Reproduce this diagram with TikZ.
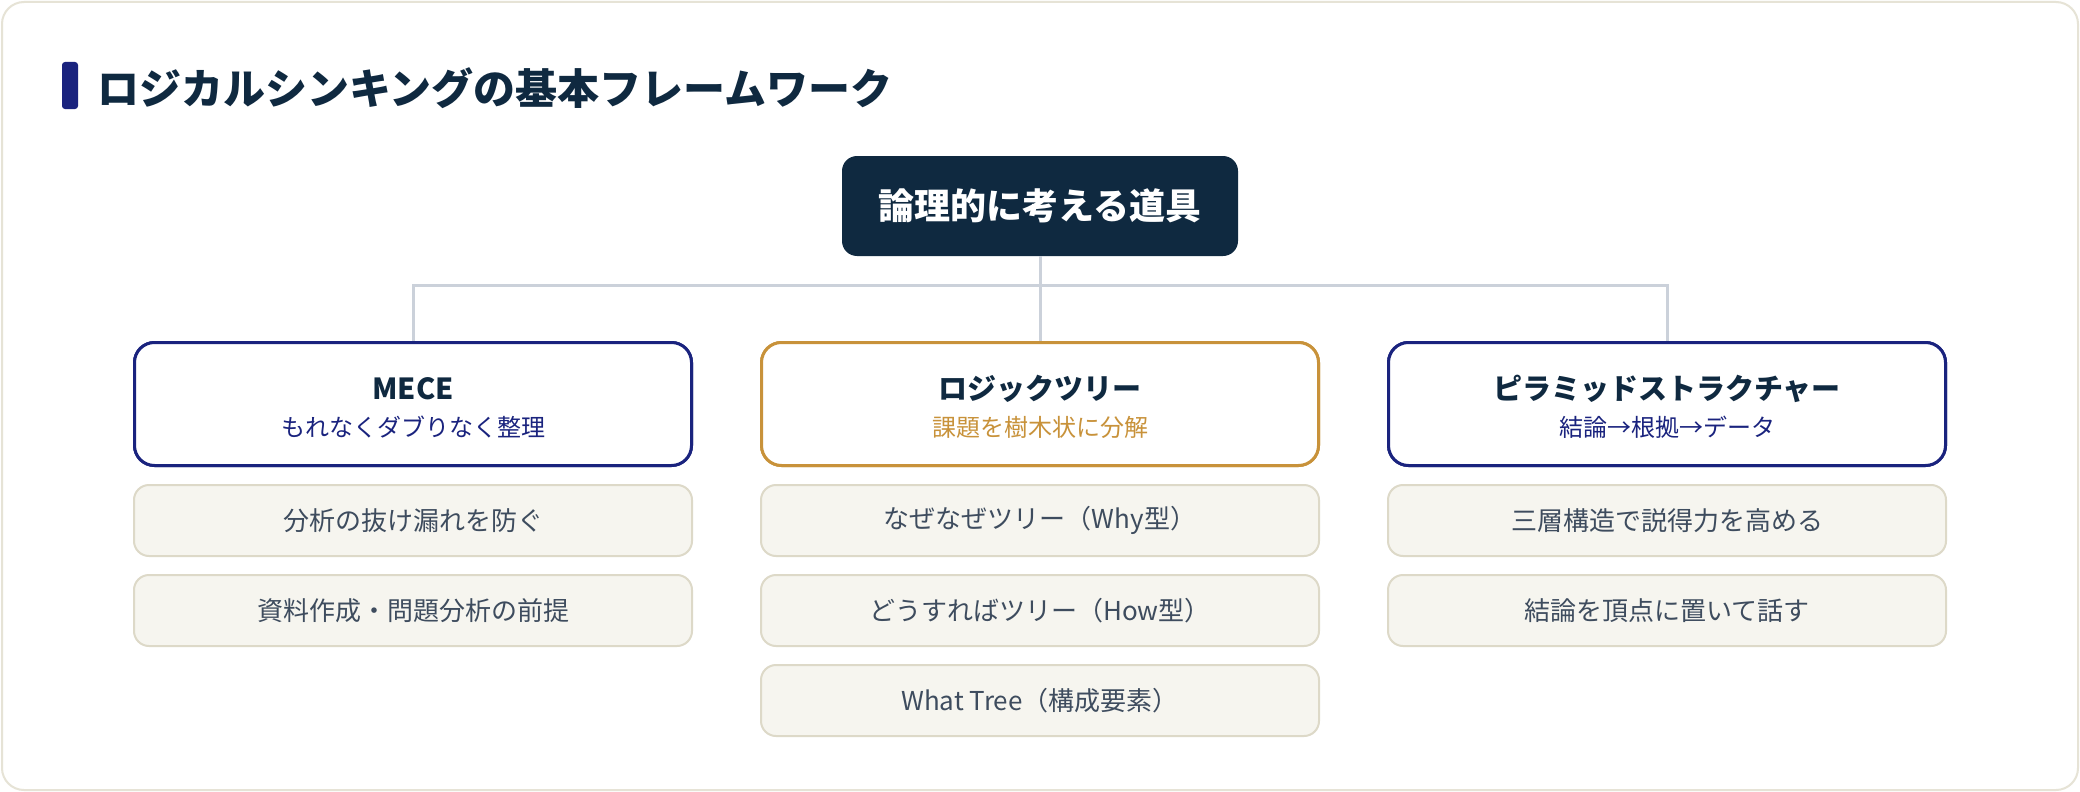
\documentclass[tikz,border=0pt]{standalone}
\usepackage{fontspec}
\setmainfont{Noto Sans CJK JP}
\definecolor{navy}{HTML}{1A237E}
\definecolor{ink}{HTML}{0F2940}
\definecolor{gold}{HTML}{C8923A}
\definecolor{conncol}{HTML}{CBD1DA}
\definecolor{subfill}{HTML}{F6F5EF}
\definecolor{subline}{HTML}{DDD9C8}
\definecolor{subtext}{HTML}{3E4C5E}
\definecolor{framecol}{HTML}{E6E3D6}
\begin{document}
\begin{tikzpicture}[x=1pt,y=-1pt,
  conn/.style={draw=conncol, line width=3pt},
  rootbox/.style={fill=ink, rounded corners=15pt, minimum width=396pt, minimum height=100pt, inner sep=0pt,
    text=white, font=\fontsize{36}{42}\selectfont\bfseries},
  mainbox/.style={draw=#1, line width=3pt, fill=white, rounded corners=20pt, minimum width=557pt, minimum height=123pt, inner sep=0pt},
  maintitle/.style={inner sep=0pt, text=ink, font=\fontsize{29}{34}\selectfont\bfseries},
  mainsub/.style={inner sep=0pt, text=#1, font=\fontsize{24}{28}\selectfont},
  subbox/.style={draw=subline, line width=2pt, fill=subfill, rounded corners=15pt, minimum width=558pt, minimum height=71pt, inner sep=0pt,
    text=subtext, font=\fontsize{26}{30}\selectfont},
  titletext/.style={inner sep=0pt, anchor=west, text=ink, font=\fontsize{42}{50}\selectfont\bfseries}
]
\useasboundingbox (0,0) rectangle (2080,792);
\fill[white] (0,0) rectangle (2080,792);
\draw[framecol, line width=2pt, rounded corners=22pt] (2,2) rectangle (2078,790);

% title
\fill[navy, rounded corners=3pt] (62,62) rectangle (78,109);
\node[titletext] (title) at (97,88) {ロジカルシンキングの基本フレームワーク};

% root
\node[rootbox] (root) at (1040,206) {論理的に考える道具};
\coordinate (j) at (1040,285);

% main boxes
\node[mainbox=navy] (mece) at (413,404) {};
\node[mainbox=gold] (logic) at (1040,404) {};
\node[mainbox=navy] (pyr) at (1667,404) {};

% connectors
\draw[conn] (root.south) -- (j);
\draw[conn] (mece.north) |- (j) -| (pyr.north);
\draw[conn] (j) -- (logic.north);

% redraw boxes on top of connector ends
\node[mainbox=navy] at (mece) {};
\node[mainbox=gold] at (logic) {};
\node[mainbox=navy] at (pyr) {};

\node[maintitle] (mece-t) at (413,389) {MECE};
\node[mainsub=navy] (mece-s) at (413,427) {もれなくダブりなく整理};
\node[maintitle] (logic-t) at (1040,389) {ロジックツリー};
\node[mainsub=gold] (logic-s) at (1040,427) {課題を樹木状に分解};
\node[maintitle] (pyr-t) at (1667,389) {ピラミッドストラクチャー};
\node[mainsub=navy] (pyr-s) at (1667,427) {結論→根拠→データ};

% sub boxes
\node[subbox] (m1) at (413,520.5) {分析の抜け漏れを防ぐ};
\node[subbox] (m2) at (413,610.5) {資料作成・問題分析の前提};
\node[subbox] (l1) at (1040,520.5) {なぜなぜツリー（Why型）};
\node[subbox] (l2) at (1040,610.5) {どうすればツリー（How型）};
\node[subbox] (l3) at (1040,700.5) {What Tree（構成要素）};
\node[subbox] (p1) at (1667,520.5) {三層構造で説得力を高める};
\node[subbox] (p2) at (1667,610.5) {結論を頂点に置いて話す};
\end{tikzpicture}
\end{document}
